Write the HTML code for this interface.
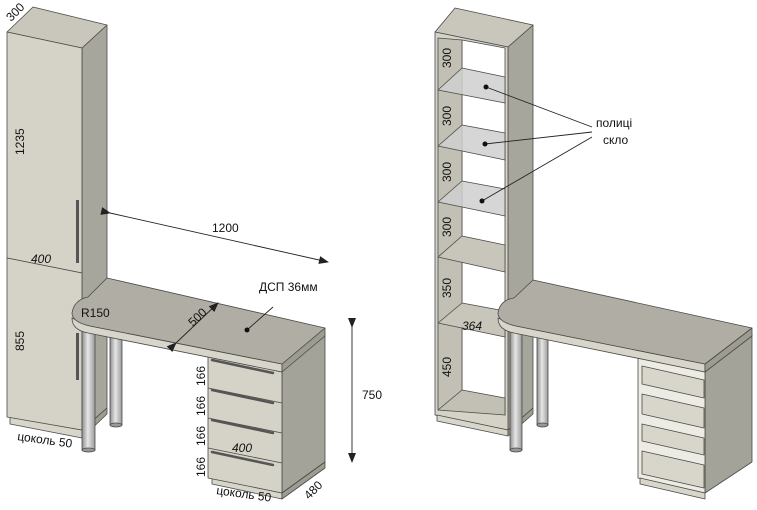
<!DOCTYPE html>
<html><head><meta charset="utf-8"><style>
html,body{margin:0;padding:0;background:#fff;}
svg{display:block;}
text{font-family:"Liberation Sans","DejaVu Sans",sans-serif;fill:#111;}
</style></head><body>
<svg width="757" height="510" viewBox="0 0 757 510" xmlns="http://www.w3.org/2000/svg">
<defs>
<linearGradient id="leg" x1="0" x2="1"><stop offset="0" stop-color="#8e8e8e"/><stop offset="0.45" stop-color="#e6e6e6"/><stop offset="1" stop-color="#9a9a9a"/></linearGradient>
<marker id="ar" markerWidth="10" markerHeight="8" refX="9" refY="4" orient="auto" markerUnits="userSpaceOnUse"><path d="M0,0 L10,4 L0,8 z" fill="#222"/></marker>
</defs>
<g stroke="#4a4a48" stroke-width="0.8" stroke-linejoin="round">
<!-- LEFT tall cabinet -->
<polygon points="82,48 107,25 107,408 82,430" fill="#a7a69c"/>
<polygon points="7,32 33,7 107,25 82,48" fill="#c9c7bc"/>
<polygon points="10,417 82,430 82,438 10,424" fill="#d8d6cb"/>
<polygon points="82,430 107,408 107,414 82,438" fill="#9d9c93"/>
<polygon points="7,32 82,48 82,273 7,258" fill="#d5d3c7"/>
<polygon points="7,258 82,273 82,430 7,417" fill="#d5d3c7"/>
<rect x="76" y="200" width="3" height="63" fill="#555" stroke="none"/>
<rect x="76" y="333" width="3" height="47" fill="#555" stroke="none"/>
<!-- legs left -->
<rect x="110" y="332" width="12" height="93" fill="url(#leg)"/>
<ellipse cx="116" cy="425" rx="6" ry="2" fill="#999"/>
<rect x="82" y="328" width="13" height="122" fill="url(#leg)"/>
<ellipse cx="88.5" cy="450" rx="6.5" ry="2" fill="#999"/>
<!-- pedestal left -->
<polygon points="282,368 325,334 325,462 282,493" fill="#a4a399"/>
<polygon points="212,478 282,493 282,499 212,484" fill="#d8d6cb"/>
<polygon points="282,493 325,462 325,468 282,499" fill="#9d9c93"/>
<polygon points="208,356 282,372 282,493 208,478" fill="#d5d3c7"/>
<line x1="208" y1="388" x2="282" y2="403"/>
<line x1="208" y1="418" x2="282" y2="433"/>
<line x1="208" y1="448" x2="282" y2="463"/>
<g stroke="#555" stroke-width="2.5" stroke-linecap="round">
<line x1="212" y1="360" x2="273" y2="373"/><line x1="212" y1="390" x2="273" y2="403"/>
<line x1="212" y1="420" x2="273" y2="433"/><line x1="212" y1="452" x2="273" y2="465"/></g>
<!-- desktop left -->
<path d="M90,326 L282,364 L282,372 L88,333 Q72,330 72,318 Z" fill="#d8d6cb"/>
<polygon points="282,364 325,328 325,336 282,372" fill="#9d9c93"/>
<path d="M107,278 L325,328 L282,364 L90,326 Q72,322 72,313 Q74,300 88,297 Z" fill="#b0aea4"/>
<!-- RIGHT shelf unit -->
<polygon points="508,47 533,25 533,408 508,430" fill="#a7a69c"/>
<polygon points="435,32 455,8 533,25 508,47" fill="#c9c7bc"/>
<polygon points="435,32 508,47 508,430 435,415" fill="#d5d3c7"/>
<polygon points="462,40 505,48 505,415 462,405" fill="#ffffff"/>
<polygon points="438,38 462,40 462,405 438,410" fill="#c2c0b5"/>
<polygon points="438,410 462,390 505,398 505,415" fill="#c2c0b5"/>
<polygon points="437,415 508,430 508,436 437,421" fill="#d8d6cb"/>
<polygon points="508,430 533,408 533,414 508,436" fill="#9d9c93"/>
<g fill="#cfcfcf" fill-opacity="0.85">
<polygon points="438,90 462,68 505,77 505,103"/>
<polygon points="438,146 462,125 505,133 505,160"/>
<polygon points="438,202 462,181 505,189 505,216"/>
</g>
<g fill="#c8c6bb">
<polygon points="438,257 462,236 505,245 505,272"/>
<polygon points="438,323 462,303 505,311 505,337"/>
</g>
<!-- legs right -->
<rect x="537" y="333" width="11" height="92" fill="url(#leg)"/>
<ellipse cx="542.5" cy="425" rx="5.5" ry="2" fill="#999"/>
<rect x="510" y="328" width="12" height="122" fill="url(#leg)"/>
<ellipse cx="516" cy="450" rx="6" ry="2" fill="#999"/>
<!-- pedestal right -->
<polygon points="705,372 752,334 752,462 705,493" fill="#a4a399"/>
<polygon points="638,358 705,372 705,493 638,478" fill="#ecebe4"/>
<polygon points="640,478 705,493 705,499 640,484" fill="#d8d6cb"/>
<g fill="#d8d6cb">
<polygon points="642,366 704,380 704,398 642,384"/>
<polygon points="642,394 704,408 704,428 642,414"/>
<polygon points="642,424 704,438 704,455 642,441"/>
<polygon points="642,451 704,465 704,488 642,474"/>
</g>
<!-- desktop right -->
<path d="M516,326 L705,364 L705,372 L514,333 Q498,330 498,318 Z" fill="#d8d6cb"/>
<polygon points="705,364 752,328 752,336 705,372" fill="#9d9c93"/>
<path d="M533,280 L752,328 L705,364 L516,326 Q498,322 498,313 Q500,300 514,298 Z" fill="#b0aea4"/>
</g>
<!-- leaders -->
<g stroke="#222" stroke-width="0.9" fill="none">
<line x1="486" y1="87" x2="592" y2="127"/>
<line x1="485" y1="144" x2="592" y2="132"/>
<line x1="482" y1="201" x2="592" y2="137"/>
<line x1="273" y1="307" x2="247" y2="330"/>
<line x1="110" y1="213" x2="328" y2="262" marker-end="url(#ar)" marker-start="url(#ar)"/>
<line x1="352" y1="327" x2="352" y2="462" marker-end="url(#ar)" marker-start="url(#ar)"/>
<line x1="176" y1="343" x2="218" y2="303" marker-end="url(#ar)" marker-start="url(#ar)"/>
</g>
<circle cx="486" cy="87" r="2.5" fill="#111"/><circle cx="485" cy="144" r="2.5" fill="#111"/><circle cx="482" cy="201" r="2.5" fill="#111"/><circle cx="247" cy="330" r="2.5" fill="#111"/>
<!-- labels -->
<g font-size="12">
<text x="596" y="127">полиці</text>
<text x="603" y="144">скло</text>
<text x="212" y="232">1200</text>
<text x="259" y="291">ДСП 36мм</text>
<text x="362" y="399">750</text>
<text x="81" y="317">R150</text>
<text x="31" y="263" font-style="italic">400</text>
<text x="232" y="452" font-style="italic">400</text>
<text x="462" y="330" font-style="italic">364</text>
<text transform="translate(17,440) rotate(8)">цоколь 50</text>
<text transform="translate(216,494) rotate(8)">цоколь 50</text>
<text transform="translate(309,500) rotate(-45)">480</text>
<text transform="translate(11,22) rotate(-45)">300</text>
<text transform="translate(193,327) rotate(-44)">500</text>
<text transform="translate(24,155) rotate(-90)">1235</text>
<text transform="translate(24,351) rotate(-90)">855</text>
<text transform="translate(205,386) rotate(-90)">166</text>
<text transform="translate(205,416) rotate(-90)">166</text>
<text transform="translate(205,446) rotate(-90)">166</text>
<text transform="translate(205,477) rotate(-90)">166</text>
<text transform="translate(451,68) rotate(-90)">300</text>
<text transform="translate(451,126) rotate(-90)">300</text>
<text transform="translate(451,182) rotate(-90)">300</text>
<text transform="translate(451,237) rotate(-90)">300</text>
<text transform="translate(451,298) rotate(-90)">350</text>
<text transform="translate(451,377) rotate(-90)">450</text>
</g>
</svg>
</body></html>
